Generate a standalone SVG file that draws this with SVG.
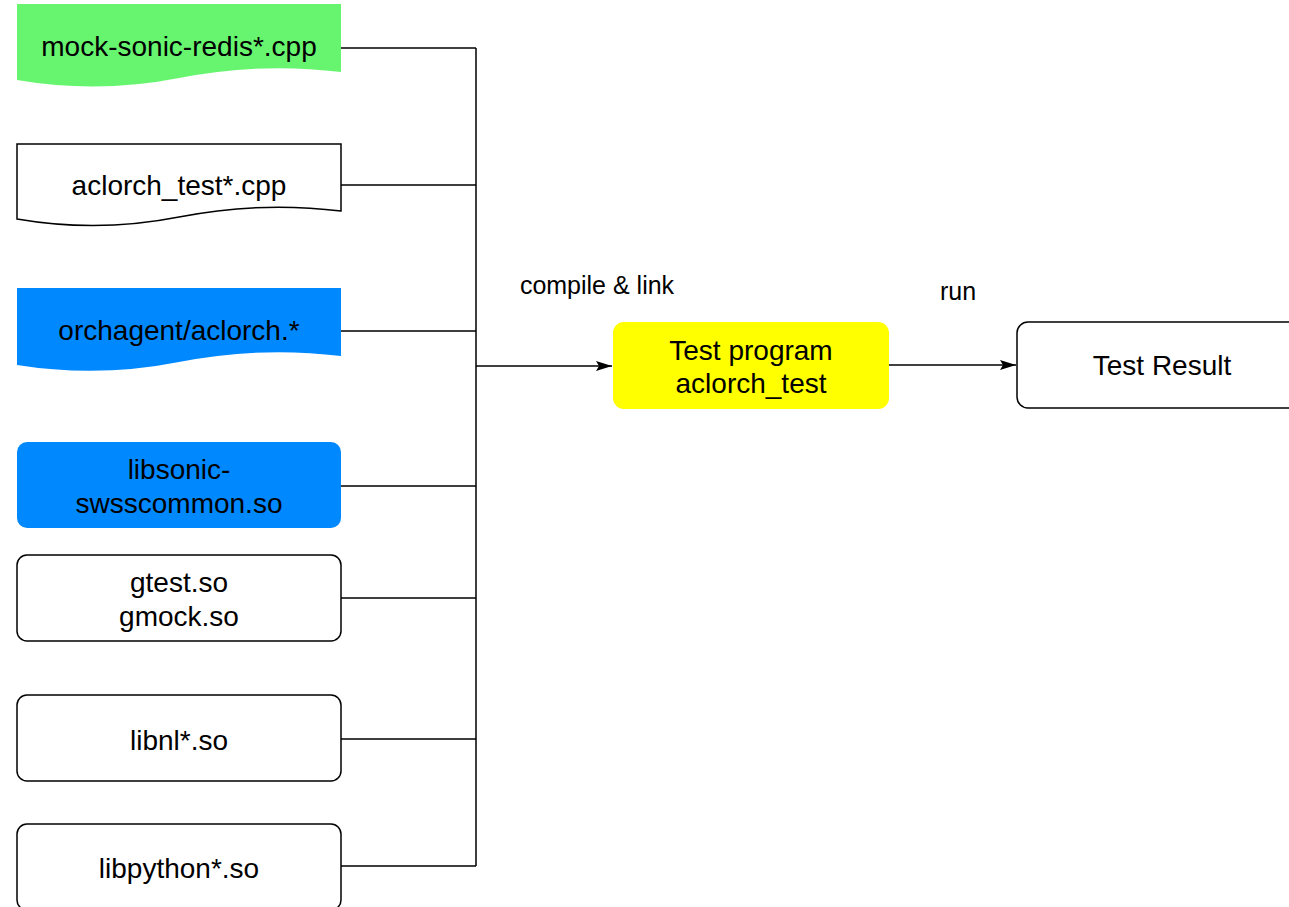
<svg xmlns="http://www.w3.org/2000/svg" width="1289" height="907" viewBox="0 0 1289 907">
<defs>
<style>
.t{font-family:"Liberation Sans",Arial,Helvetica,sans-serif;font-size:28px;fill:#000;text-anchor:middle;dominant-baseline:central}
.lbl{font-family:"Liberation Sans",Arial,Helvetica,sans-serif;font-size:25px;fill:#000;text-anchor:middle;dominant-baseline:central}
.box{fill:#fff;stroke:#000;stroke-width:1.5}
.c{fill:none;stroke:#000;stroke-width:1.5}
</style>
<marker id="ah" viewBox="0 0 16 12" refX="16" refY="6" markerWidth="16" markerHeight="12" markerUnits="userSpaceOnUse" orient="auto">
<path d="M0,1 L16,6 L0,11 L3,6 Z" fill="#000"/>
</marker>
</defs>
<rect width="1289" height="907" fill="#fff"/>
<g id="connectors">
<path class="c" d="M341,48 H476 M341,185 H476 M341,331 H476 M341,486 H476 M341,598 H476 M341,739 H476 M341,866 H476 M476,48 V866"/>
<path class="c" d="M476,366 H612" marker-end="url(#ah)"/>
<path class="c" d="M889,365 H1016" marker-end="url(#ah)"/>
</g>
<g id="label-compile"><text class="lbl" x="597" y="285">compile &amp; link</text></g>
<g id="label-run"><text class="lbl" x="958" y="291">run</text></g>
<g id="node-mock">
<path d="M17,4 H341 V72 Q260,62 179,78 Q98,94 17,80 Z" fill="#67F570"/>
<text class="t" x="179" y="46">mock-sonic-redis*.cpp</text>
</g>
<g id="node-aclorch-test">
<path class="box" d="M17,144 H341 V211 Q260,201 179,217 Q98,233 17,219 Z"/>
<text class="t" x="179" y="185">aclorch_test*.cpp</text>
</g>
<g id="node-orchagent">
<path d="M17,288 H341 V356 Q260,346 179,362 Q98,378 17,365 Z" fill="#0088FF"/>
<text class="t" x="179" y="330">orchagent/aclorch.*</text>
</g>
<g id="node-libsonic">
<rect x="17" y="442" width="324" height="86" rx="10" fill="#0088FF"/>
<text class="t" x="179" y="469">libsonic-</text>
<text class="t" x="179" y="503">swsscommon.so</text>
</g>
<g id="node-gtest">
<rect class="box" x="17" y="555" width="324" height="86" rx="10"/>
<text class="t" x="179" y="582">gtest.so</text>
<text class="t" x="179" y="616">gmock.so</text>
</g>
<g id="node-libnl">
<rect class="box" x="17" y="695" width="324" height="86" rx="10"/>
<text class="t" x="179" y="740">libnl*.so</text>
</g>
<g id="node-libpython">
<rect class="box" x="17" y="824" width="324" height="86" rx="10"/>
<text class="t" x="179" y="868">libpython*.so</text>
</g>
<g id="node-test-program">
<rect x="613" y="322" width="276" height="87" rx="11" fill="#FFFF00"/>
<text class="t" x="751" y="350">Test program</text>
<text class="t" x="751" y="383">aclorch_test</text>
</g>
<g id="node-test-result">
<rect class="box" x="1017" y="322" width="290" height="86" rx="11"/>
<text class="t" x="1162" y="365">Test Result</text>
</g>
</svg>
